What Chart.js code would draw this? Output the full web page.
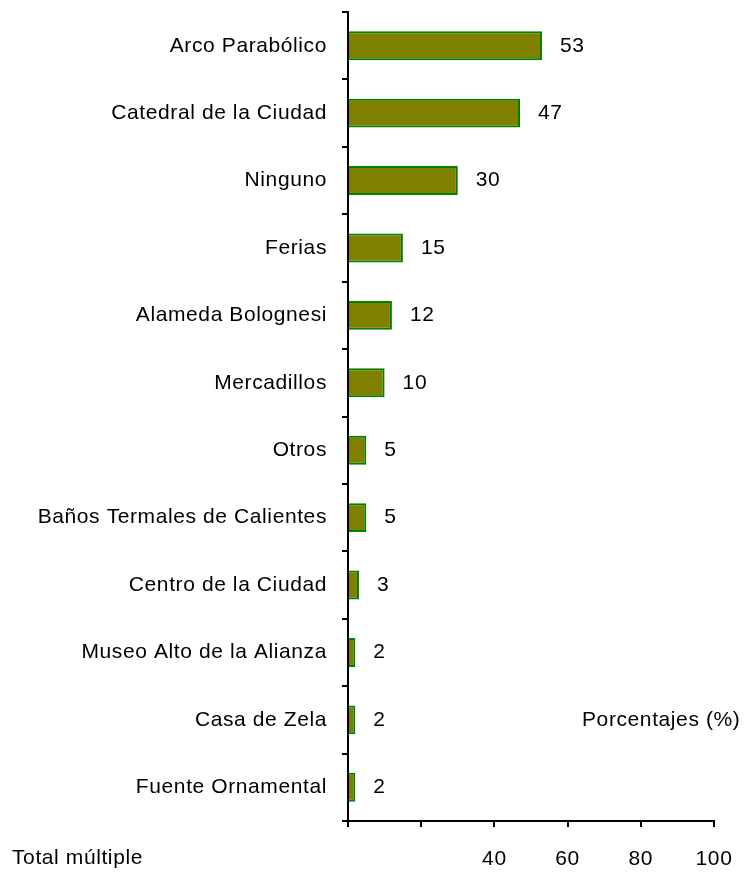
<!DOCTYPE html>
<html>
<head>
<meta charset="utf-8">
<script src="https://cdn.jsdelivr.net/npm/chart.js@4"></script>
<style>
  html, body { margin: 0; padding: 0; background: #fff; }
  #wrap { width: 747px; height: 881px; }
</style>
</head>
<body>
<div id="wrap"><canvas id="grafico"></canvas></div>
<script>
// Datos del gráfico
const categorias = [
    "Arco Parabólico", "Catedral de la Ciudad", "Ninguno", "Ferias",
    "Alameda Bolognesi", "Mercadillos", "Otros", "Baños Termales de Calientes",
    "Centro de la Ciudad", "Museo Alto de la Alianza", "Casa de Zela", "Fuente Ornamental"
];
const porcentajes = [53, 47, 30, 15, 12, 10, 5, 5, 3, 2, 2, 2];
const etiquetasOcultas = [0, 20]; // el eje no muestra 0 ni 20

const fuente = "'Liberation Sans', Arial, sans-serif";

// Espaciado de letras como en el original
const espaciado = {
    id: 'espaciado',
    beforeDraw(chart) {
        chart.ctx.letterSpacing = '0.6px';
    }
};

// Plugin para escribir los valores y los textos sueltos
const textosExtra = {
    id: 'textosExtra',
    afterDatasetsDraw(chart) {
        const ctx = chart.ctx;
        const meta = chart.getDatasetMeta(0);
        ctx.save();
        ctx.font = "21px " + fuente;
        ctx.fillStyle = "#000";
        ctx.textBaseline = "middle";
        ctx.textAlign = "left";
        meta.data.forEach((barra, i) => {
            ctx.fillText(String(porcentajes[i]), barra.x + 18, barra.y);
        });
        ctx.fillText("Total múltiple", 12, 858);
        ctx.fillText("Porcentajes (%)", 582, 720);
        ctx.restore();
    }
};

new Chart(document.getElementById('grafico'), {
    type: 'bar',
    data: {
        labels: categorias,
        datasets: [{
            data: porcentajes,
            backgroundColor: '#808000',
            borderColor: '#008000',
            borderWidth: 2,
            barPercentage: 0.43,
            categoryPercentage: 1
        }]
    },
    options: {
        indexAxis: 'y',
        responsive: true,
        maintainAspectRatio: false,
        animation: false,
        layout: { padding: { top: 12, right: 33, left: 0, bottom: 0 } },
        plugins: {
            legend: { display: false },
            tooltip: { enabled: false }
        },
        scales: {
            x: {
                min: 0,
                max: 100,
                ticks: {
                    stepSize: 20,
                    color: '#000',
                    font: { family: fuente, size: 21 },
                    padding: 20,
                    maxRotation: 0,
                    callback: v => etiquetasOcultas.includes(v) ? '' : v
                },
                grid: { drawOnChartArea: false, drawTicks: true, tickLength: 6, color: '#000', lineWidth: 2 },
                border: { color: '#000', width: 2 },
                afterFit: s => { s.height = 60; s.paddingRight = 0; s.paddingLeft = 0; }
            },
            y: {
                ticks: {
                    color: '#000',
                    font: { family: fuente, size: 21 },
                    padding: 15,
                    autoSkip: false
                },
                grid: { drawOnChartArea: false, drawTicks: true, tickLength: 6, color: '#000', lineWidth: 2, offset: true },
                border: { color: '#000', width: 2 },
                afterFit: s => { s.width = 348; s.paddingTop = 0; s.paddingBottom = 0; }
            }
        }
    },
    plugins: [espaciado, textosExtra]
});
</script>
</body>
</html>
